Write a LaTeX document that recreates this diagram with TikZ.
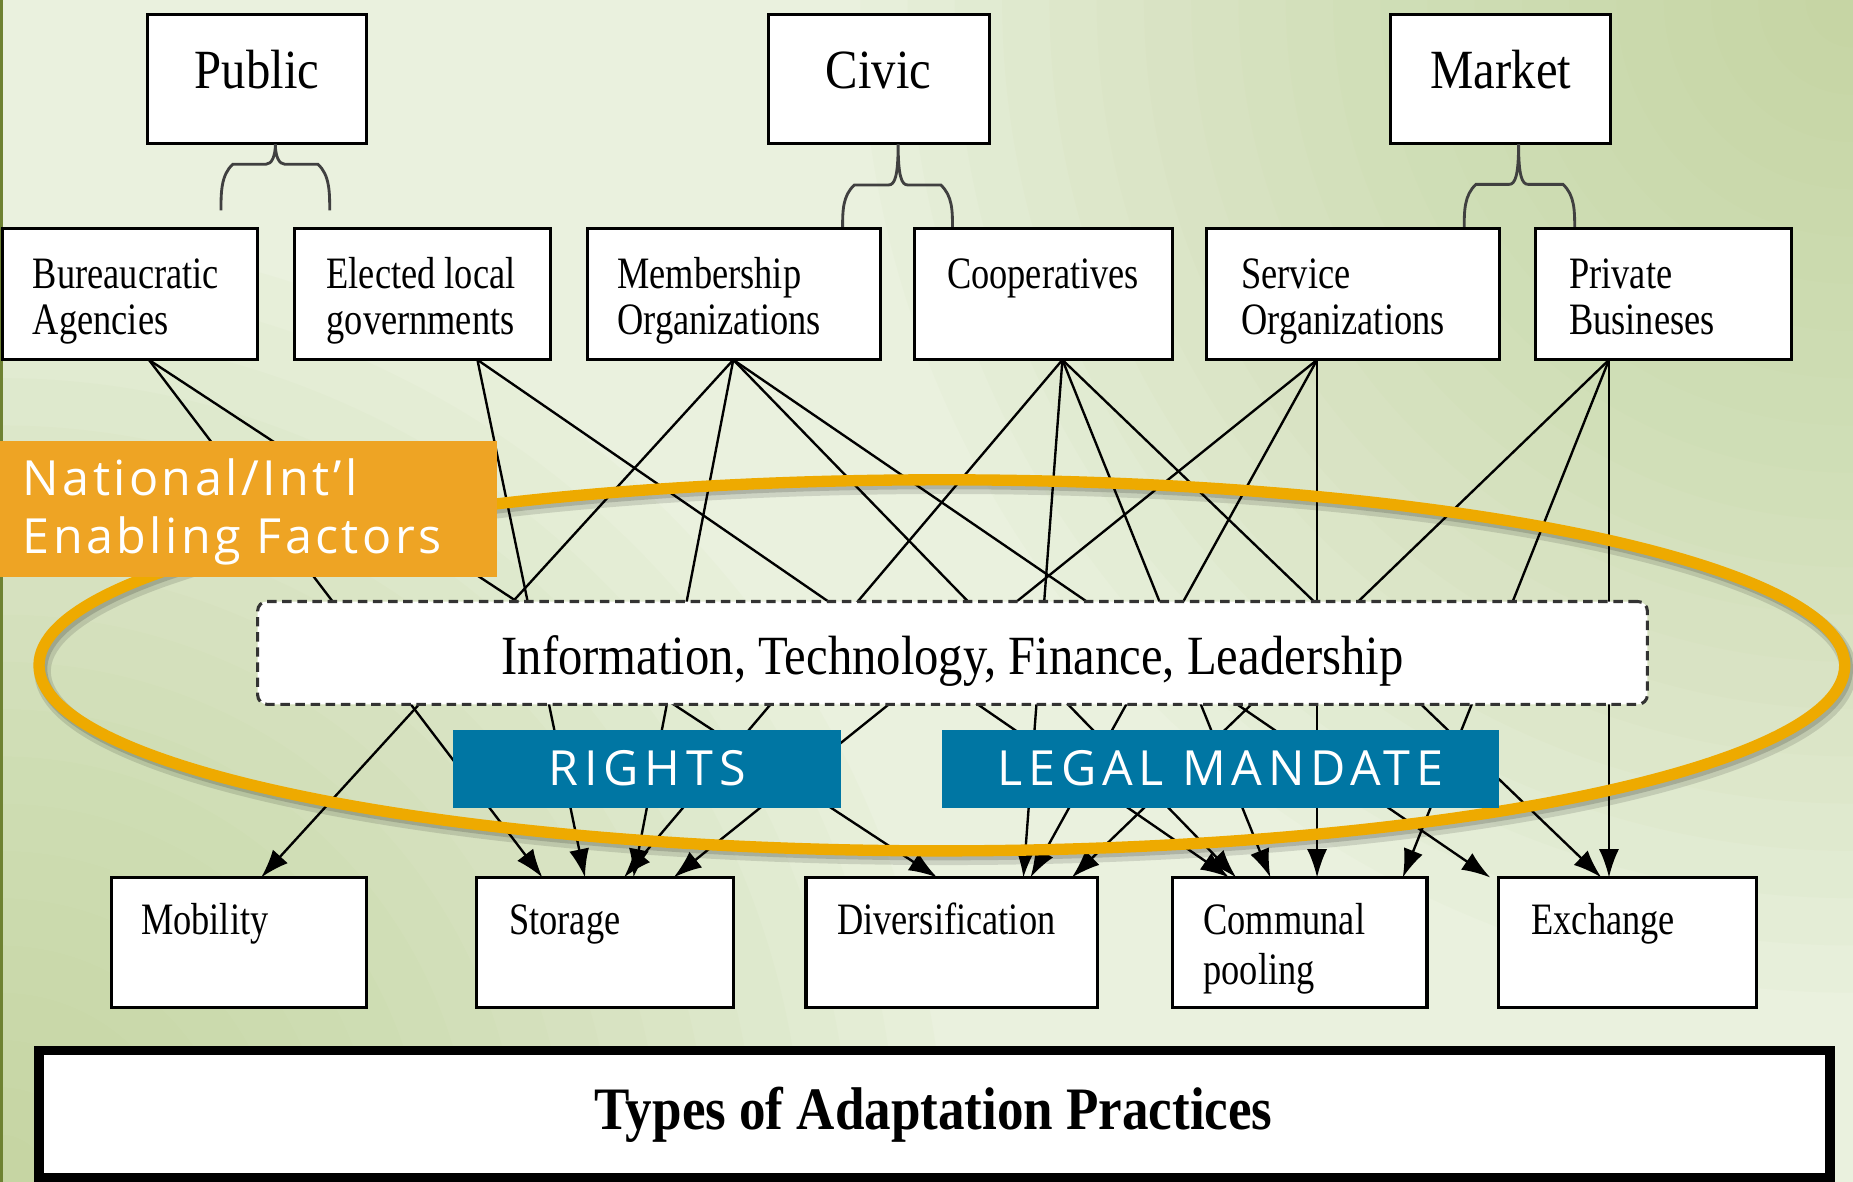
\documentclass[tikz,border=0pt]{standalone}
\usepackage{fontspec}
\setmainfont{Liberation Serif}
\newfontfamily\serA[FakeStretch=0.81]{Liberation Serif}
\newfontfamily\serB[FakeStretch=0.88]{Liberation Serif}
\newfontfamily\sansO[LetterSpace=7.0]{Open Sans}
\newfontfamily\sansB[LetterSpace=12.0]{Open Sans}
\usetikzlibrary{arrows.meta,calc}
\definecolor{bgA}{RGB}{234,241,222}
\definecolor{bgB}{RGB}{188,208,145}
\definecolor{cEdge}{RGB}{110,130,50}
\definecolor{cOrange}{RGB}{238,164,36}
\definecolor{cRing}{RGB}{238,170,0}
\definecolor{cBlue}{RGB}{0,118,163}
\newcommand\mkbox[6]{\node[#1, minimum width={(#5-#3)*0.5pt}, minimum height={(#6-#4)*0.5pt}] (#2) at ({(#3+#5)/2},{(#4+#6)/2}) {};}
\newcommand\drawbrace[6]{\draw[brc] (#4,#6) .. controls (#4,{#6-15}) and (#4,{#3+9}) .. ({#4+10},#3) -- ({#1-8},#3) .. controls ({#1-3},#3) and (#1,{#3-7}) .. (#1,#2) .. controls (#1,{#3-7}) and ({#1+3},#3) .. ({#1+8},#3) -- ({#5-10},#3) .. controls (#5,{#3+9}) and (#5,{#6-15}) .. (#5,#6);}
\begin{document}
\begin{tikzpicture}[x=0.5pt,y=-0.5pt]
\tikzset{
  box/.style={draw=black, line width=1.3pt, fill=white, inner sep=0pt, outer sep=0pt},
  dashbox/.style={draw=black!80, dash pattern=on 4pt off 2.4pt, line width=1.3pt, fill=white, rounded corners=4pt, inner sep=0pt},
  bluefill/.style={fill=cBlue, inner sep=0pt},
  orangefill/.style={fill=cOrange, inner sep=0pt},
  bigbox/.style={draw=black, line width=4pt, fill=white, inner sep=0pt},
  conn/.style={line width=1pt, black, -{Latex[length=12pt,width=8.5pt]}},
  brc/.style={line width=1.2pt, black!75},
  orgtxt/.style={anchor=base west, inner sep=0pt, font=\serA\fontsize{19}{23}\selectfont},
  toptxt/.style={anchor=base, inner sep=0pt, font=\serB\fontsize{23.4}{28}\selectfont},
  sanstxt/.style={anchor=base west, inner sep=0pt, text=white, font=\sansO\fontsize{20.5}{24}\selectfont},
  bluetxt/.style={anchor=base, inner sep=0pt, text=white, font=\sansB\fontsize{20.5}{24}\selectfont}
}
\useasboundingbox (0,0) rectangle (1568,1000);
% background
\begin{scope}
\clip (0,0) rectangle (1568,1000);
\fill[bgA] (0,0) rectangle (1568,1000);
\foreach \r in {40,80,...,840}{\fill[bgB, opacity=0.05] (1568,0) circle (\r);}
\foreach \r in {40,80,...,800}{\fill[bgB, opacity=0.055] (0,1000) circle (\r);}
\fill[cEdge] (0,0) rectangle (2.5,1000);
\end{scope}
% anchors
\foreach \n/\x in {aB/126,aE/404,aM/620.5,aC/899,aS/1114.5,aP/1361.5}{\coordinate (\n) at (\x,304.5);}
\foreach \n/\x in {tMob/221,tSto1/459,tSto2/495,tSto3/536,tSto4/528,tSto5/570,tDiv1/793,tDiv2/866,tDiv3/872,tDiv4/907,tCom1/1040,tCom2/1046,tCom3/1075,tCom4/1114.5,tCom5/1187,tExc1/1261,tExc2/1355,tExc3/1361.5}{\coordinate (\n) at (\x,742.5);}
% connectors
\draw[conn] (aB) -- (tSto1);
\draw[conn] (aB) -- (tDiv1);
\draw[conn] (aE) -- (tSto2);
\draw[conn] (aE) -- (tCom1);
\draw[conn] (aM) -- (tMob);
\draw[conn] (aM) -- (tSto3);
\draw[conn] (aM) -- (tCom2);
\draw[conn] (aM) -- (tExc1);
\draw[conn] (aC) -- (tSto4);
\draw[conn] (aC) -- (tDiv2);
\draw[conn] (aC) -- (tCom3);
\draw[conn] (aC) -- (tExc2);
\draw[conn] (aS) -- (tSto5);
\draw[conn] (aS) -- (tDiv3);
\draw[conn] (aS) -- (tCom4);
\draw[conn] (aP) -- (tDiv4);
\draw[conn] (aP) -- (tCom5);
\draw[conn] (aP) -- (tExc3);
% ring
\draw[black, opacity=0.12, line width=7pt] (800,568) ellipse [x radius=764, y radius=157];
\draw[black, opacity=0.15, line width=5pt] (799,566) ellipse [x radius=764, y radius=157];
\draw[cRing, line width=4.8pt] (797,563) ellipse [x radius=764, y radius=157];
% top boxes
\mkbox{box}{pub}{125}{12}{310}{121.5}
\mkbox{box}{civ}{650}{12}{837}{121.5}
\mkbox{box}{mkt}{1177}{12}{1363}{121.5}
\node[toptxt] (pubT) at (217.5,75) {Public};
\node[toptxt] (civT) at (743.5,75) {Civic};
\node[toptxt] (mktT) at (1270,75) {Market};
% braces
\drawbrace{233}{122}{139}{187}{279}{178}
\drawbrace{760}{122}{156.5}{713}{806}{193.5}
\drawbrace{1285}{122}{156}{1239}{1332.5}{193.5}
% org boxes
\mkbox{box}{bur}{2}{193.5}{218}{304.5}
\mkbox{box}{ele}{249.5}{193.5}{465.5}{304.5}
\mkbox{box}{mem}{497}{193.5}{745}{304.5}
\mkbox{box}{coo}{774}{193.5}{992}{304.5}
\mkbox{box}{ser}{1021}{193.5}{1268.5}{304.5}
\mkbox{box}{pri}{1299.5}{193.5}{1516}{304.5}
\node[orgtxt] (burT1) at (27.5,244) {Bureaucratic};
\node[orgtxt] (burT2) at (27.5,283) {Agencies};
\node[orgtxt] (eleT1) at (276,244) {Elected local};
\node[orgtxt] (eleT2) at (276,283) {governments};
\node[orgtxt] (memT1) at (522,244) {Membership};
\node[orgtxt] (memT2) at (522,283) {Organizations};
\node[orgtxt] (cooT1) at (801,244) {Cooperatives};
\node[orgtxt] (serT1) at (1050,244) {Service};
\node[orgtxt] (serT2) at (1050,283) {Organizations};
\node[orgtxt] (priT1) at (1327.5,244) {Private};
\node[orgtxt] (priT2) at (1327.5,283) {Busineses};
% dashed enabling box
\mkbox{dashbox}{info}{218}{509}{1394}{596}
\node[toptxt] (infoT) at (806,571) {Information, Technology, Finance, Leadership};
% blue boxes
\mkbox{bluefill}{rig}{383.5}{618}{712}{684}
\mkbox{bluefill}{leg}{797}{618}{1268.5}{684}
\node[bluetxt] (rigT) at (547.75,665) {RIGHTS};
\node[bluetxt] (legT) at (1032.75,665) {LEGAL MANDATE};
% orange box
\mkbox{orangefill}{nat}{0}{373}{420.5}{488}
\node[sanstxt] (natT1) at (19,419) {National/Int’l};
\node[sanstxt] (natT2) at (19,468) {Enabling Factors};
% practice boxes
\mkbox{box}{mob}{94}{742.5}{310}{852.5}
\mkbox{box}{sto}{403}{742.5}{621}{852.5}
\mkbox{box}{div}{682}{742.5}{929}{852.5}
\mkbox{box}{com}{992.5}{742.5}{1207.5}{852.5}
\mkbox{box}{exc}{1268}{742.5}{1486.5}{852.5}
\node[orgtxt] (mobT) at (119,791) {Mobility};
\node[orgtxt] (stoT) at (430.5,791) {Storage};
\node[orgtxt] (divT) at (708,791) {Diversification};
\node[orgtxt] (comT1) at (1018,791) {Communal};
\node[orgtxt] (comT2) at (1018,833) {pooling};
\node[orgtxt] (excT) at (1295.5,791) {Exchange};
% types box
\mkbox{bigbox}{typ}{33}{889}{1548.5}{997}
\node[anchor=base, inner sep=0pt, font=\serB\bfseries\fontsize{25.5}{30}\selectfont] (typT) at (790,956) {Types of Adaptation Practices};
\end{tikzpicture}
\end{document}
